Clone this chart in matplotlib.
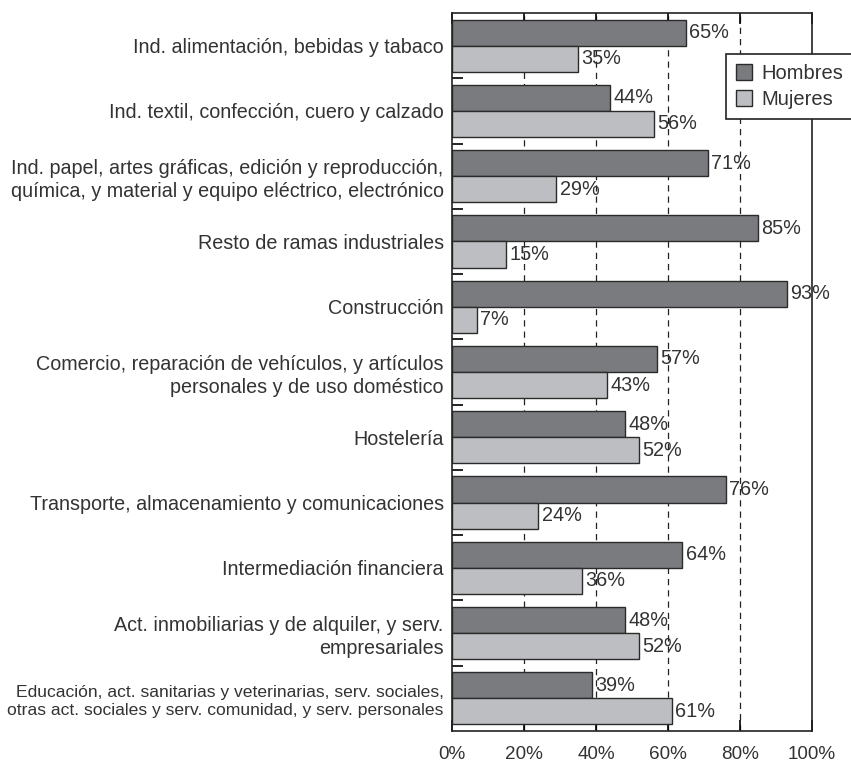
import matplotlib.pyplot as plt
import numpy as np

plt.rcParams['font.family'] = ['Liberation Sans', 'DejaVu Sans']

categories = [
    "Ind. alimentación, bebidas y tabaco",
    "Ind. textil, confección, cuero y calzado",
    "Ind. papel, artes gráficas, edición y reproducción,\nquímica, y material y equipo eléctrico, electrónico",
    "Resto de ramas industriales",
    "Construcción",
    "Comercio, reparación de vehículos, y artículos\npersonales y de uso doméstico",
    "Hostelería",
    "Transporte, almacenamiento y comunicaciones",
    "Intermediación financiera",
    "Act. inmobiliarias y de alquiler, y serv.\nempresariales",
    "Educación, act. sanitarias y veterinarias, serv. sociales,\notras act. sociales y serv. comunidad, y serv. personales",
]
hombres = [65, 44, 71, 85, 93, 57, 48, 76, 64, 48, 39]
mujeres = [35, 56, 29, 15, 7, 43, 52, 24, 36, 52, 61]

c_h = '#7a7b7e'
c_m = '#bdbec1'
edge = '#2b2b2b'
txt = '#333333'

fig = plt.figure(figsize=(8.51, 7.62), dpi=100)
ax = fig.add_axes([452 / 851, 1 - 731 / 762, 360 / 851, 718 / 762])

y = np.arange(len(categories))
h = 0.4
ax.barh(y - h / 2, hombres, height=h, color=c_h, edgecolor=edge, linewidth=1, zorder=2, label='Hombres')
ax.barh(y + h / 2, mujeres, height=h, color=c_m, edgecolor=edge, linewidth=1, zorder=2, label='Mujeres')

for i in range(len(categories)):
    ax.text(hombres[i] + 0.9, y[i] - h / 2, f"{hombres[i]}%", va='center', ha='left', fontsize=14.3, color=txt, zorder=3)
    ax.text(mujeres[i] + 0.9, y[i] + h / 2, f"{mujeres[i]}%", va='center', ha='left', fontsize=14.3, color=txt, zorder=3)

ax.set_xlim(0, 100)
ax.set_ylim(len(categories) - 0.5, -0.5)

for gx in [20, 40, 60, 80]:
    ax.axvline(gx, color='#222222', linestyle=(0, (5, 4)), linewidth=0.9, zorder=1)

ax.set_xticks([0, 20, 40, 60, 80, 100])
ax.set_xticklabels(['0%', '20%', '40%', '60%', '80%', '100%'], fontsize=13.6, color=txt)
ax.tick_params(axis='x', direction='in', length=8, width=1.2, top=True, pad=11)

ax.set_yticks(np.arange(0.5, len(categories) - 1, 1), minor=False)
ax.set_yticklabels([])
ax.tick_params(axis='y', direction='in', length=8, width=1.2, left=True)
ax.set_yticks(y, minor=True)
ax.set_yticklabels(categories, minor=True, fontsize=14.2, color=txt, linespacing=1.25)
ax.tick_params(axis='y', which='minor', length=0, pad=6)
ax.get_yticklabels(minor=True)[-1].set_fontsize(12.6)

for s in ax.spines.values():
    s.set_linewidth(1.2)
    s.set_color('#222222')

leg = fig.legend(loc='upper left', bbox_to_anchor=(726 / 851, 1 - 54 / 762), fontsize=14.5,
                 frameon=True, fancybox=False, edgecolor='#222222', framealpha=1,
                 handlelength=0.8, handleheight=0.8, handletextpad=0.45, borderpad=0.5,
                 labelspacing=0.35, borderaxespad=0)
leg.get_frame().set_linewidth(1.2)
for t in leg.get_texts():
    t.set_color(txt)

fig.savefig('out.png', dpi=100)
